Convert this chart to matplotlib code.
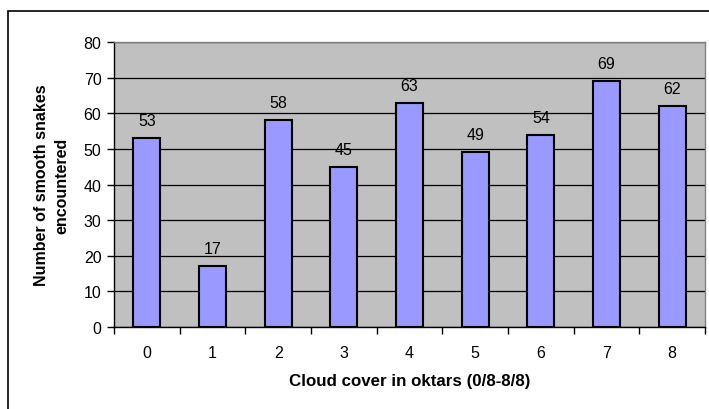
import matplotlib
matplotlib.use("Agg")
import matplotlib.pyplot as plt
from matplotlib.patches import Rectangle

cloud_cover = ["0", "1", "2", "3", "4", "5", "6", "7", "8"]
snakes = [53, 17, 58, 45, 63, 49, 54, 69, 62]
y_ticks = [0, 10, 20, 30, 40, 50, 60, 70, 80]

plt.rcParams["font.family"] = ["Liberation Sans", "DejaVu Sans"]

W, H = 709, 410
fig = plt.figure(figsize=(W / 100, H / 100), dpi=100)
fig.patch.set_facecolor("white")

# chart frame (open on right/bottom edges)
fig.patches.append(Rectangle((8 / W, -0.1), 1.2, 1.1 - 12 / H,
                             transform=fig.transFigure, fill=False,
                             edgecolor="black", linewidth=1.2))

left, right, top, bottom = 114, 705, 43, 328
ax = fig.add_axes([left / W, 1 - bottom / H, (right - left) / W, (bottom - top) / H])
ax.set_facecolor("#C0C0C0")

x = list(range(len(cloud_cover)))
ax.bar(x, snakes, width=0.41, color="#9999FF", edgecolor="black",
       linewidth=1.5, zorder=3)
for xi, v in zip(x, snakes):
    ax.text(xi, v + 2.8, str(v), ha="center", va="bottom", fontsize=11.5, zorder=4)

ax.set_xlim(-0.5, len(cloud_cover) - 0.5)
ax.set_ylim(0, 80)
ax.set_yticks(y_ticks)
ax.yaxis.grid(True, color="black", linewidth=0.9, zorder=1)
ax.set_axisbelow(True)

ax.set_xticks(x)
ax.set_xticklabels(cloud_cover)
ax.set_xticks([i - 0.5 for i in range(len(cloud_cover) + 1)], minor=True)
ax.tick_params(axis="x", which="major", length=0, pad=13, labelsize=11.5)
ax.tick_params(axis="x", which="minor", length=5, width=1, direction="out")
ax.tick_params(axis="y", length=5, width=1, direction="out", pad=4, labelsize=11.5)

for s in ["top", "right"]:
    ax.spines[s].set_color("#808080")
    ax.spines[s].set_linewidth(1)
for s in ["left", "bottom"]:
    ax.spines[s].set_color("black")
    ax.spines[s].set_linewidth(1)

ax.set_xlabel("Cloud cover in oktars (0/8-8/8)", fontsize=12.2, fontweight="bold", labelpad=9)
ax.set_ylabel("Number of smooth snakes\nencountered", fontsize=11.5, fontweight="bold",
              labelpad=10, linespacing=1.5)

fig.savefig("out.png", dpi=100)
